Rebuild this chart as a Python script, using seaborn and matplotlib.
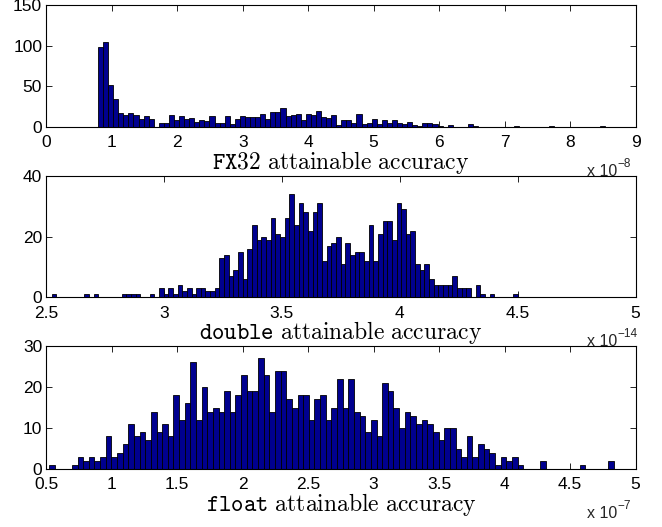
import numpy as np
import pandas as pd
import matplotlib
matplotlib.use("Agg")
import matplotlib.pyplot as plt
import seaborn as sns

# ---------------- data (counts per bin, 100 bins each) ----------------
fx32_range = (0.79, 8.53)      # x 1e-8
fx32_counts = [98, 105, 52, 34, 17, 15, 17, 14, 10, 13, 10, 0, 5, 5, 15, 8, 13, 9, 11, 6,
               8, 7, 13, 5, 5, 13, 3, 10, 13, 12, 12, 12, 16, 10, 18, 18, 23, 13, 15, 16,
               8, 16, 15, 19, 12, 11, 15, 2, 8, 8, 4, 16, 3, 4, 9, 3, 8, 5, 8, 4,
               3, 6, 2, 1, 5, 4, 3, 1, 0, 2, 0, 0, 0, 3, 1, 0, 0, 0, 0, 0,
               0, 0, 1, 0, 0, 0, 0, 0, 0, 1, 0, 0, 0, 0, 0, 0, 0, 0, 0, 1]

double_range = (2.523, 4.50)   # x 1e-14
double_counts = [1, 0, 0, 0, 0, 0, 0, 1, 0, 1, 0, 0, 0, 0, 0, 1, 1, 1, 1, 0,
                 0, 1, 0, 3, 1, 3, 1, 4, 2, 3, 1, 3, 3, 2, 2, 3, 13, 14, 7, 9,
                 15, 6, 16, 24, 19, 20, 19, 26, 21, 20, 26, 34, 24, 31, 28, 22, 28, 31, 12, 17,
                 18, 20, 11, 18, 14, 15, 15, 12, 24, 12, 21, 25, 25, 19, 31, 29, 21, 22, 11, 9,
                 11, 6, 4, 4, 4, 4, 7, 3, 3, 3, 0, 4, 1, 0, 1, 0, 0, 0, 0, 1]

float_range = (0.523, 4.832)   # x 1e-7
float_counts = [1, 0, 0, 0, 1, 3, 2, 3, 2, 3, 8, 3, 4, 6, 11, 8, 9, 7, 14, 9,
                11, 8, 18, 12, 16, 26, 12, 20, 14, 15, 14, 19, 14, 18, 23, 19, 19, 27, 23, 14,
                24, 24, 17, 15, 18, 18, 12, 17, 18, 12, 15, 22, 15, 22, 14, 13, 9, 12, 8, 21,
                19, 15, 10, 14, 13, 11, 12, 11, 9, 7, 10, 10, 5, 3, 8, 3, 6, 5, 4, 1,
                3, 2, 3, 1, 0, 0, 0, 2, 0, 0, 0, 0, 0, 0, 1, 0, 0, 0, 0, 2]

panels = [
    dict(rng=fx32_range, counts=fx32_counts, xlim=(0, 9), xticks=[0, 1, 2, 3, 4, 5, 6, 7, 8, 9],
         xticklabels=["0", "1", "2", "3", "4", "5", "6", "7", "8", "9"],
         ylim=(0, 150), yticks=[0, 50, 100, 150], tt="FX32", exp="\u22128"),
    dict(rng=double_range, counts=double_counts, xlim=(2.5, 5), xticks=[2.5, 3, 3.5, 4, 4.5, 5],
         xticklabels=["2.5", "3", "3.5", "4", "4.5", "5"],
         ylim=(0, 40), yticks=[0, 20, 40], tt="double", exp="\u221214"),
    dict(rng=float_range, counts=float_counts, xlim=(0.5, 5), xticks=[0.5, 1, 1.5, 2, 2.5, 3, 3.5, 4, 4.5, 5],
         xticklabels=["0.5", "1", "1.5", "2", "2.5", "3", "3.5", "4", "4.5", "5"],
         ylim=(0, 30), yticks=[0, 10, 20, 30], tt="float", exp="\u22127"),
]

# ---------------- style ----------------
sns.set_theme(style="white")
plt.rcParams["font.family"] = ["Liberation Sans", "DejaVu Sans"]
plt.rcParams["mathtext.fontset"] = "cm"

W, H = 662, 527
fig = plt.figure(figsize=(W / 100, H / 100), dpi=100)

# axes boxes in pixels: (left, top, right, bottom)
boxes = [(46.3, 5.0, 635.5, 126.7), (46.3, 176.0, 635.5, 297.3), (46.3, 346.0, 635.5, 469.0)]

bar_color = "#00008F"

for p, (l, t, r, b) in zip(panels, boxes):
    ax = fig.add_axes([l / W, 1 - b / H, (r - l) / W, (b - t) / H])
    lo, hi = p["rng"]
    n = len(p["counts"])
    width = (hi - lo) / n
    centers = lo + width * (np.arange(n) + 0.5)
    df = pd.DataFrame({"x": centers, "w": np.asarray(p["counts"], dtype=float)})
    sns.histplot(data=df, x="x", weights="w", bins=n, binrange=(lo, hi), ax=ax,
                 color=bar_color, edgecolor="black", linewidth=0.6, alpha=1.0)
    ax.set_xlim(*p["xlim"])
    ax.set_ylim(*p["ylim"])
    ax.set_xticks(p["xticks"])
    ax.set_xticklabels(p["xticklabels"])
    ax.set_yticks(p["yticks"])
    ax.set_ylabel("")
    label = r"$\mathtt{" + p["tt"] + r"}\ \mathrm{attainable\ accuracy}$"
    ax.set_xlabel(label, fontsize=17, labelpad=-1, color="black")
    ax.tick_params(direction="in", length=4, width=0.6, top=True, right=True,
                   bottom=True, left=True, labelsize=12.5, colors="black")
    ax.tick_params(axis="x", pad=6)
    ax.tick_params(axis="y", pad=3)
    for s in ax.spines.values():
        s.set_visible(True)
        s.set_color("black")
        s.set_linewidth(0.8)
    # MATLAB-style exponent label
    fig.text(587 / W, 1 - (b + 49) / H, "x 10", fontsize=11.5, ha="left", va="baseline")
    fig.text(617 / W, 1 - (b + 40) / H, p["exp"], fontsize=8.5, ha="left", va="baseline")

fig.savefig("out.png", dpi=100)
